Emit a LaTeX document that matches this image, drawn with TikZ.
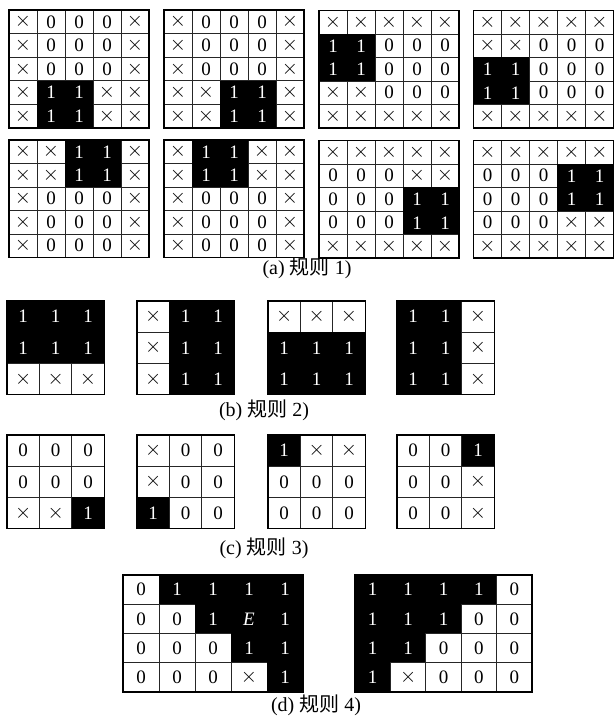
\documentclass[tikz,border=0pt]{standalone}
\usepackage{fontspec}
\setmainfont{Liberation Serif}
\newfontfamily\cjk{Noto Sans CJK SC}
\tikzset{
  cellbase/.style={inner sep=0pt, outer sep=0pt, anchor=center, font=\fontsize{19}{20}\selectfont},
  blackcell/.style={cellbase, fill=black, draw=black, line width=0.6pt, text=white},
  whitecell/.style={cellbase, fill=white, draw=black!85, line width=0.8pt, text=black},
  gridframe/.style={draw=black, line width=1.3pt},
  caption/.style={font=\fontsize{20}{22}\selectfont, inner sep=0pt}
}
\newcommand\crossmark{{\fontsize{21}{21}\selectfont$\times$}}
% #1 name, #2 x0, #3 y0, #4 cell width, #5 cell height, #6 cols, #7 rows, #8 contents
\newcommand\drawgrid[8]{%
 \foreach \row [count=\r] in {#8} {
   \foreach \c [count=\k] in \row {
     \pgfmathsetmacro\cx{#2+(\k-0.5)*#4}
     \pgfmathsetmacro\cy{#3+(\r-0.5)*#5}
     \if\c1
       \node[blackcell, minimum width=#4pt, minimum height=#5pt] (#1-\r-\k) at (\cx,\cy) {1};
     \else\if\c E
       \node[blackcell, minimum width=#4pt, minimum height=#5pt] (#1-\r-\k) at (\cx,\cy) {\textit{E}};
     \else\if\c x
       \node[whitecell, minimum width=#4pt, minimum height=#5pt] (#1-\r-\k) at (\cx,\cy) {\crossmark};
     \else
       \node[whitecell, minimum width=#4pt, minimum height=#5pt] (#1-\r-\k) at (\cx,\cy) {0};
     \fi\fi\fi
   }
 }
 \draw[gridframe] (#2,#3) rectangle ++(#4*#6,#5*#7);
}
\begin{document}
\begin{tikzpicture}[x=1pt,y=-1pt]
\useasboundingbox[fill=white] (0,0) rectangle (614,723);
% (a) rule 1
\drawgrid{a1}{9}{10}{28}{23.6}{5}{5}{{x,0,0,0,x},{x,0,0,0,x},{x,0,0,0,x},{x,1,1,x,x},{x,1,1,x,x}}
\drawgrid{a2}{164}{10}{28}{23.6}{5}{5}{{x,0,0,0,x},{x,0,0,0,x},{x,0,0,0,x},{x,x,1,1,x},{x,x,1,1,x}}
\drawgrid{a3}{319}{10.5}{28}{23.5}{5}{5}{{x,x,x,x,x},{1,1,0,0,0},{1,1,0,0,0},{x,x,0,0,0},{x,x,x,x,x}}
\drawgrid{a4}{473.5}{10.5}{28}{23.5}{5}{5}{{x,x,x,x,x},{x,x,0,0,0},{1,1,0,0,0},{1,1,0,0,0},{x,x,x,x,x}}
\drawgrid{a5}{9}{140}{28}{23.5}{5}{5}{{x,x,1,1,x},{x,x,1,1,x},{x,0,0,0,x},{x,0,0,0,x},{x,0,0,0,x}}
\drawgrid{a6}{164}{140}{28}{23.5}{5}{5}{{x,1,1,x,x},{x,1,1,x,x},{x,0,0,0,x},{x,0,0,0,x},{x,0,0,0,x}}
\drawgrid{a7}{319}{140.5}{28}{23.5}{5}{5}{{x,x,x,x,x},{0,0,0,x,x},{0,0,0,1,1},{0,0,0,1,1},{x,x,x,x,x}}
\drawgrid{a8}{473.5}{140.5}{28}{23.5}{5}{5}{{x,x,x,x,x},{0,0,0,1,1},{0,0,0,1,1},{0,0,0,x,x},{x,x,x,x,x}}
\node[caption] (capa) at (307,268) {(a) {\cjk 规则} 1)};
% (b) rule 2
\drawgrid{b1}{7}{301}{32.4}{31.2}{3}{3}{{1,1,1},{1,1,1},{x,x,x}}
\drawgrid{b2}{137}{301}{32.4}{31.2}{3}{3}{{x,1,1},{x,1,1},{x,1,1}}
\drawgrid{b3}{268}{301}{32.4}{31.2}{3}{3}{{x,x,x},{1,1,1},{1,1,1}}
\drawgrid{b4}{397}{301}{32.4}{31.2}{3}{3}{{1,1,x},{1,1,x},{1,1,x}}
\node[caption] (capb) at (264,410) {(b) {\cjk 规则} 2)};
% (c) rule 3
\drawgrid{c1}{7}{435}{32.4}{31.2}{3}{3}{{0,0,0},{0,0,0},{x,x,1}}
\drawgrid{c2}{137}{435}{32.4}{31.2}{3}{3}{{x,0,0},{x,0,0},{1,0,0}}
\drawgrid{c3}{268}{435}{32.4}{31.2}{3}{3}{{1,x,x},{0,0,0},{0,0,0}}
\drawgrid{c4}{397}{435}{32.4}{31.2}{3}{3}{{0,0,1},{0,0,x},{0,0,x}}
\node[caption] (capc) at (264,548) {(c) {\cjk 规则} 3)};
% (d) rule 4
\drawgrid{d1}{123}{575}{36}{29.25}{5}{4}{{0,1,1,1,1},{0,0,1,E,1},{0,0,0,1,1},{0,0,0,x,1}}
\drawgrid{d2}{355}{575}{35.4}{29.25}{5}{4}{{1,1,1,1,0},{1,1,1,0,0},{1,1,0,0,0},{1,x,0,0,0}}
\node[caption] (capd) at (316,705) {(d) {\cjk 规则} 4)};
\end{tikzpicture}
\end{document}
